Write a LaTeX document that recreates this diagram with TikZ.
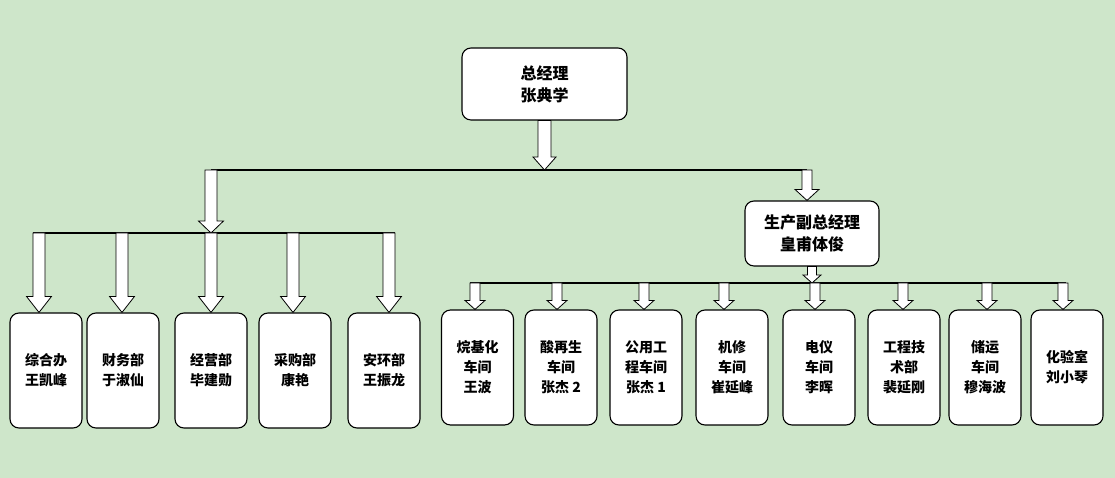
\documentclass[tikz,border=0pt]{standalone}
\usepackage{fontspec}
\setmainfont{Noto Sans CJK SC}
\usetikzlibrary{calc}

\definecolor{bg}{RGB}{206,230,202}

% hollow block arrow, always pointing down
\tikzset{ba shaft/.store in=\bashaft, ba head/.store in=\bahead, ba len/.store in=\balen,
  ba shaft=6pt, ba head=12pt, ba len=12pt}
\newcommand\barrow[3][]{%
  \draw[ba,#1] let \p1=(#2), \p2=(#3) in
    (\x1-\bashaft,\y1) -- (\x1+\bashaft,\y1) -- (\x1+\bashaft,\y2+\balen)
    -- (\x1+\bahead,\y2+\balen) -- (\x1,\y2) -- (\x1-\bahead,\y2+\balen)
    -- (\x1-\bashaft,\y2+\balen) -- cycle;}

\begin{document}
\begin{tikzpicture}[x=1pt, y=1pt,
    box/.style={draw, fill=white, rounded corners=9pt, line width=1.1pt, align=center,
      minimum width=72pt, minimum height=115pt, inner sep=2pt,
      font=\bfseries\fontsize{14}{20}\selectfont},
    big/.style={box, minimum width=165pt, minimum height=72pt,
      font=\bfseries\fontsize{16}{22}\selectfont},
    ba/.style={draw=black, fill=white, line width=0.8pt},
    bus/.style={line width=1.8pt}]
  \fill[bg] (0,0) rectangle (1115,478);

  % top
  \node[big] (zjl) at (544.5,394) {总经理\\张典学};
  \node[big, minimum width=134pt, minimum height=65pt] (fz) at (812,244.5) {生产副总经理\\皇甫体俊};

  \coordinate (j0) at (544.5,308);
  \coordinate (jl) at (211,308);
  \coordinate (jr) at (807,308);
  \coordinate (bl) at (211,245);
  \coordinate (br) at (812.5,195);

  \draw[bus] (jl) -- (jr);
  \draw[bus] (33,245) -- (395,245);
  \draw[bus] (470,195) -- (1066,195);

  % left side
  \foreach \i/\x/\t in {1/46/{综合办\\王凯峰}, 2/123/{财务部\\于淑仙}, 3/211/{经营部\\毕建勋},
      4/295/{采购部\\康艳}, 5/384/{安环部\\王振龙}}
    \node[box] (b\i) at (\x,107.5) {\t};

  % right side
  \foreach \i/\x/\t in {1/477.5/{烷基化\\车间\\王波}, 2/561/{酸再生\\车间\\张杰 2},
      3/646/{公用工\\程车间\\张杰 1}, 4/732/{机修\\车间\\崔延峰}, 5/819/{电仪\\车间\\李晖},
      6/904/{工程技\\术部\\裴延刚}, 7/985/{储运\\车间\\穆海波}, 8/1067/{化验室\\刘小琴}}
    \node[box] (r\i) at (\x,110.5) {\t};

  \barrow[ba shaft=6.5pt, ba head=11.5pt, ba len=13pt]{zjl.south}{j0}
  \barrow[ba shaft=6pt, ba head=12.5pt, ba len=12pt]{jl}{bl}
  \barrow[ba shaft=5pt, ba head=12pt, ba len=11pt]{jr}{fz.north}
  \barrow[ba shaft=4.5pt, ba head=9pt, ba len=8pt]{fz.south}{br}

  \foreach \i/\x in {1/39, 2/122, 3/211, 4/293, 5/389} {
    \coordinate (l\i) at (\x,245);
    \barrow[ba shaft=6pt, ba head=12.5pt, ba len=16pt]{l\i}{b\i.north}
  }
  \foreach \i/\x in {1/475, 2/557, 3/644, 4/724, 5/815, 6/903, 7/987, 8/1063} {
    \coordinate (k\i) at (\x,195);
    \barrow[ba shaft=5pt, ba head=10pt, ba len=9pt]{k\i}{r\i.north}
  }
\end{tikzpicture}
\end{document}
